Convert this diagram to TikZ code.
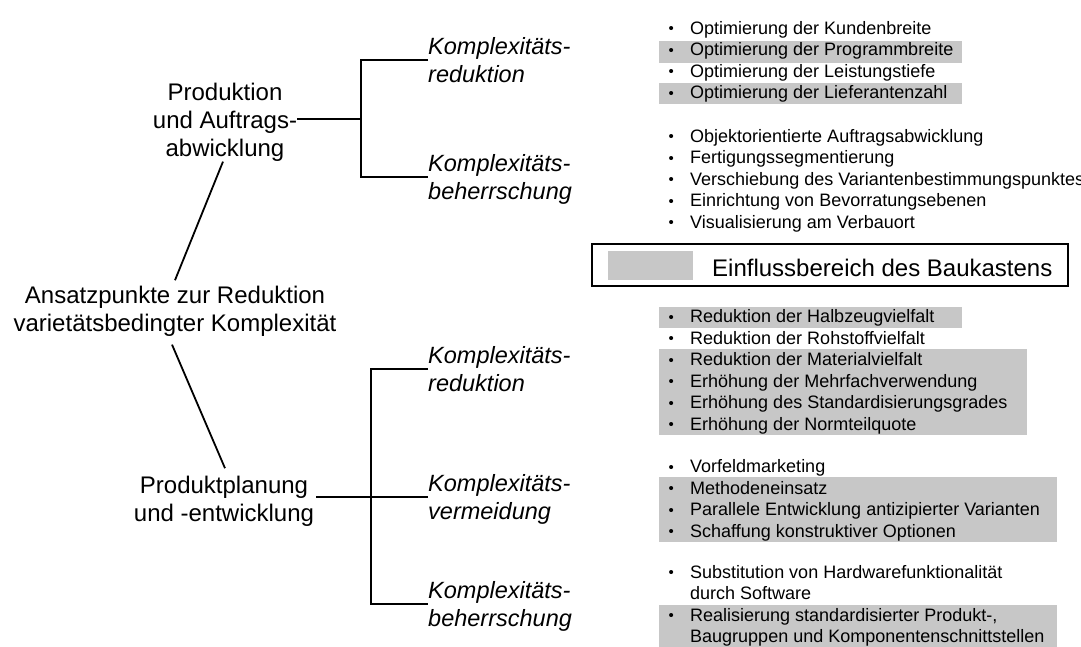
\documentclass[tikz,border=0pt]{standalone}
\usepackage{fontspec}
\setmainfont{Liberation Sans}
\definecolor{kgray}{RGB}{199,199,199}
% bullet of a list entry, followed by the indent of its text
\newcommand\bul{\makebox[21pt][l]{\hspace{-0.5pt}\raisebox{0.3pt}{\fontsize{15}{15}\selectfont\textbullet}}}
% multi-line labels whose baseline is the baseline of the first line
\newcommand\tlc[1]{\begin{tabular}[t]{@{}c@{}}#1\end{tabular}}
\newcommand\tll[1]{\begin{tabular}[t]{@{}l@{}}#1\end{tabular}}

\begin{document}
\begin{tikzpicture}[x=1pt,y=-1pt,
  conn/.style={line width=1.8pt, black},
  topic/.style={inner sep=0pt, anchor=base, font=\fontsize{24}{28}\selectfont},
  branch/.style={inner sep=0pt, anchor=base west, font=\fontsize{23.5}{28}\selectfont\itshape},
  item/.style={inner sep=0pt, anchor=base west, font=\fontsize{18}{21.5}\selectfont},
  hilite/.style={fill=kgray},
]
\fill[white] (0,0) rectangle (1081,646);
\useasboundingbox (0,0) rectangle (1081,646);

% ---- highlighted entries (influence of the modular system)
\fill[hilite] (659,41) rectangle (962,63);
\fill[hilite] (659,83) rectangle (962,104);
\fill[hilite] (659,307) rectangle (962,328);
\fill[hilite] (659,349) rectangle (1027,435);
\fill[hilite] (659,477) rectangle (1057,542);
\fill[hilite] (659,605) rectangle (1057,650);

% ---- tree of starting points
\node[topic] (ans) at (175,303) {\tlc{Ansatzpunkte zur Reduktion\\varietätsbedingter Komplexität}};
\node[topic] (prod) at (225,100) {\tlc{Produktion\\und Auftrags-\\abwicklung}};
\node[topic] (pp) at (224,493) {\tlc{Produktplanung\\und -entwicklung}};

\node[branch] (k1) at (428,54.5) {\tll{Komplexitäts-\\reduktion}};
\node[branch] (k2) at (428,171.5) {\tll{Komplexitäts-\\beherrschung}};
\node[branch] (r1) at (428,363.5) {\tll{Komplexitäts-\\reduktion}};
\node[branch] (r2) at (428,491.5) {\tll{Komplexitäts-\\vermeidung}};
\node[branch] (r3) at (428,598.5) {\tll{Komplexitäts-\\beherrschung}};

\coordinate (j1) at (361,119);
\coordinate (j2) at (371,497);

\draw[conn] ([shift={(-2,-3)}]prod.south) -- ([shift={(0,-3)}]ans.north);
\draw[conn] ([shift={(-3,5)}]ans.south) -- ([shift={(1,-5)}]pp.north);

\draw[conn] (prod.east |- j1) -- (j1);
\draw[conn] ([shift={(0,5.5)}]k1.base west) -| (j1) |- ([shift={(0,5.5)}]k2.base west);

\draw[conn] ([shift={(2,0)}]pp.east |- j2) -- ([shift={(0,5.5)}]r2.base west);
\draw[conn] ([shift={(0,5.5)}]r1.base west) -| (j2) |- ([shift={(0,5.5)}]r3.base west);

% ---- measures, production and order processing
\node[item] (a1) at (669,34) {\bul Optimierung der Kundenbreite};
\node[item] (a2) at (669,55.5) {\bul Optimierung der Programmbreite};
\node[item] (a3) at (669,77) {\bul Optimierung der Leistungstiefe};
\node[item] (a4) at (669,98.5) {\bul Optimierung der Lieferantenzahl};

\node[item] (b1) at (669,142) {\bul Objektorientierte Auftragsabwicklung};
\node[item] (b2) at (669,163.5) {\bul Fertigungssegmentierung};
\node[item] (b3) at (669,185) {\bul Verschiebung des Variantenbestimmungspunktes};
\node[item] (b4) at (669,206.5) {\bul Einrichtung von Bevorratungsebenen};
\node[item] (b5) at (669,228) {\bul Visualisierung am Verbauort};

% ---- legend
\node[draw, line width=2.5pt, minimum width=476pt, minimum height=42pt, inner sep=0pt] (leg) at (830,265) {};
\node[fill=kgray, minimum width=85pt, minimum height=29pt, inner sep=0pt, anchor=west] (sw) at (608,265.5) {};
\node[inner sep=0pt, anchor=base west, font=\fontsize{24}{28}\selectfont] (legtxt) at (712,276) {Einflussbereich des Baukastens};

% ---- measures, product planning and development
\node[item] (c1) at (669,322.5) {\bul Reduktion der Halbzeugvielfalt};
\node[item] (c2) at (669,344) {\bul Reduktion der Rohstoffvielfalt};
\node[item] (c3) at (669,365.5) {\bul Reduktion der Materialvielfalt};
\node[item] (c4) at (669,387) {\bul Erhöhung der Mehrfachverwendung};
\node[item] (c5) at (669,408.5) {\bul Erhöhung des Standardisierungsgrades};
\node[item] (c6) at (669,430) {\bul Erhöhung der Normteilquote};

\node[item] (d1) at (669,472.5) {\bul Vorfeldmarketing};
\node[item] (d2) at (669,494) {\bul Methodeneinsatz};
\node[item] (d3) at (669,515.5) {\bul Parallele Entwicklung antizipierter Varianten};
\node[item] (d4) at (669,537) {\bul Schaffung konstruktiver Optionen};

\node[item] (e1) at (669,578) {\bul\tll{Substitution von Hardwarefunktionalität\\durch Software}};
\node[item] (e2) at (669,621) {\bul\tll{Realisierung standardisierter Produkt-,\\Baugruppen und Komponentenschnittstellen}};
\end{tikzpicture}
\end{document}
